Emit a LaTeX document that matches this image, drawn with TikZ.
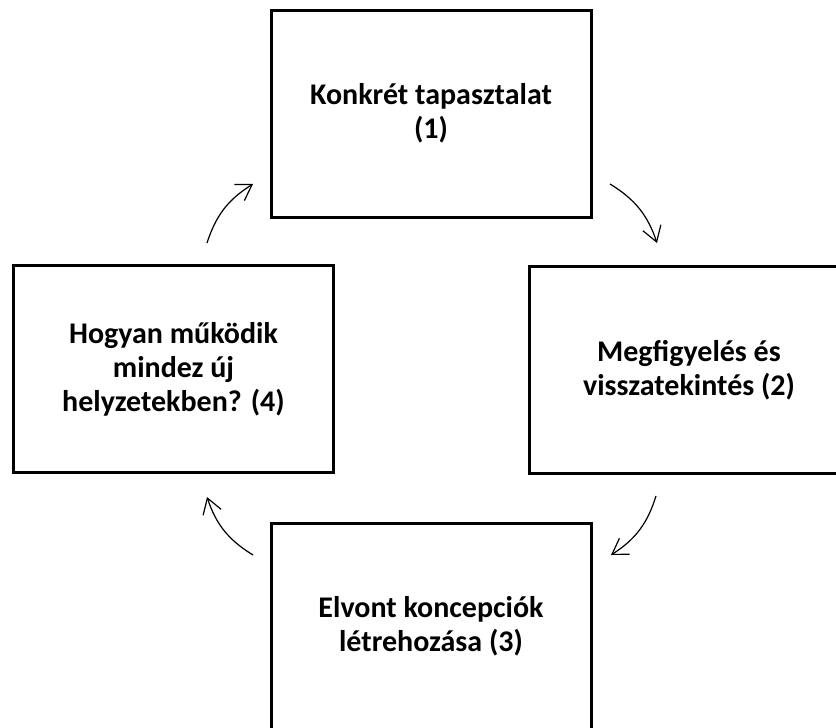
\documentclass[tikz,border=0pt]{standalone}
\usepackage{fontspec}
\setmainfont{Carlito}
\usetikzlibrary{arrows.meta}

\tikzset{
  stage/.style={draw, line width=3pt, minimum width=320pt, minimum height=207pt,
    align=center, font=\fontsize{30}{34}\selectfont\bfseries},
  cycle/.style={-{Straight Barb[length=15pt,width=19pt]}, line width=1.2pt, bend left=20}
}

\begin{document}
\begin{tikzpicture}[x=1pt,y=-1pt]
      \useasboundingbox (0,0) rectangle (836,728);

      \node[stage] (1) at (431,113.5) {Konkrét tapasztalat\\(1)};
      \node[stage] (2) at (689,370) {Megfigyelés és\\visszatekintés (2)};
      \node[stage] (3) at (431,626.5) {Elvont koncepciók\\létrehozása (3)};
      \node[stage] (4) at (173.5,369) {Hogyan működik\\mindez új\\helyzetekben? (4)};

      \coordinate (1a) at (610,184);
      \coordinate (1b) at (657,243);
      \coordinate (2a) at (656,496);
      \coordinate (2b) at (611,555);
      \coordinate (3a) at (253,555);
      \coordinate (3b) at (207,497);
      \coordinate (4a) at (207,243);
      \coordinate (4b) at (253,184);

      \draw[cycle] (1a) to (1b);
      \draw[cycle] (2a) to (2b);
      \draw[cycle] (3a) to (3b);
      \draw[cycle] (4a) to (4b);
    \end{tikzpicture}
\end{document}
